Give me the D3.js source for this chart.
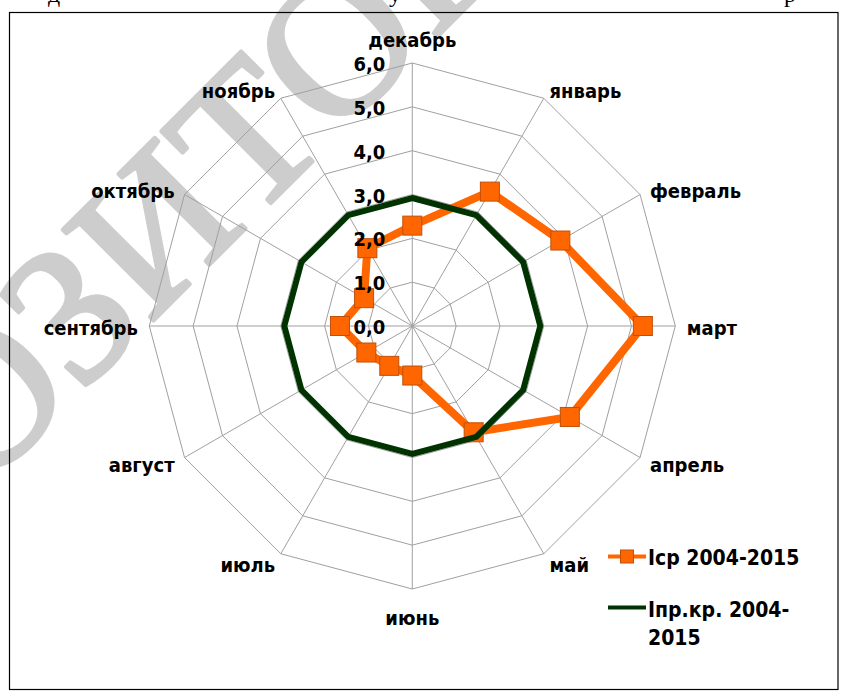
<!DOCTYPE html>
<html>
<head>
<meta charset="utf-8">
<script src="https://cdn.jsdelivr.net/npm/d3@7"></script>
<style>
  body { margin: 0; background: #fff; }
  svg { display: block; }
  .lbl { font-family: "DejaVu Sans Condensed", "DejaVu Sans", sans-serif; font-stretch: condensed; font-weight: bold; fill: #000; }
</style>
</head>
<body>
<div id="chart"></div>
<script>
// Radar chart: monthly index, 2004-2015

const WIDTH = 841
const HEIGHT = 696

// data
const months = ["декабрь", "январь", "февраль", "март", "апрель", "май",
  "июнь", "июль", "август", "сентябрь", "октябрь", "ноябрь"]
const iAvg = [2.29, 3.54, 3.90, 5.26, 4.15, 2.80, 1.13, 1.05, 1.21, 1.65, 1.27, 2.05]
const iCrit = [2.92, 2.92, 2.92, 2.92, 2.92, 2.92, 2.92, 2.92, 2.92, 2.92, 2.92, 2.92]
const ticks = [0, 1, 2, 3, 4, 5, 6]
const seriesNames = ["Iср 2004-2015", "Iпр.кр. 2004-", "2015"]

const CX = 412.3
const CY = 326
const RADIUS = 263

const svg = d3.select("#chart")
  .append("svg")
  .attr("width", WIDTH)
  .attr("height", HEIGHT)

// watermark left over from the scanned page
svg.append("text")
  .attr("transform", "translate(-20,494) rotate(-45)")
  .attr("font-family", "Liberation Serif, serif")
  .attr("font-size", 196)
  .attr("fill", "#cdcdcd")
  .attr("stroke", "#cdcdcd")
  .attr("stroke-width", 4)
  .attr("stroke-linejoin", "round")
  .text("ОЗИТОРИЙ")

// cut-off line of text above the figure
const topLine = [["д", 54], ["у", 395], ["р", 790]]
svg.selectAll(".topline")
  .data(topLine)
  .enter()
  .append("text")
    .attr("x", d => d[1])
    .attr("y", 2)
    .attr("text-anchor", "middle")
    .attr("font-family", "Liberation Serif, serif")
    .attr("font-size", 24)
    .attr("fill", "#000")
    .text(d => d[0])

// frame
svg.append("rect")
  .attr("x", 9.5)
  .attr("y", 12.5)
  .attr("width", 828.5)
  .attr("height", 677)
  .attr("fill", "none")
  .attr("stroke", "#000")
  .attr("stroke-width", 1.2)

const r = d3.scaleLinear().domain([0, 6]).range([0, RADIUS])
const angle = d3.scalePoint()
  .domain(d3.range(months.length + 1))
  .range([0, 2 * Math.PI])

const g = svg.append("g")
  .attr("transform", `translate(${CX},${CY})`)

function pt(i, v) {
  const a = angle(i)
  return [r(v) * Math.sin(a), -r(v) * Math.cos(a)]
}

// grid rings
const ring = d3.lineRadial()
  .angle((d, i) => angle(i))
  .radius(d => r(d))
  .curve(d3.curveLinearClosed)

g.selectAll(".ring")
  .data(ticks.slice(1))
  .enter()
  .append("path")
    .attr("d", t => ring(months.map(() => t)))
    .attr("fill", "none")
    .attr("stroke", "#a0a0a0")
    .attr("stroke-width", 1)

// spokes
g.selectAll(".spoke")
  .data(months)
  .enter()
  .append("line")
    .attr("x1", 0)
    .attr("y1", 0)
    .attr("x2", (d, i) => pt(i, 6)[0])
    .attr("y2", (d, i) => pt(i, 6)[1])
    .attr("stroke", "#a0a0a0")
    .attr("stroke-width", 1)

// month labels
g.selectAll(".month")
  .data(months)
  .enter()
  .append("text")
    .attr("class", "lbl")
    .attr("font-size", 20)
    .each(function(d, i) {
      const a = angle(i)
      const s = Math.sin(a), c = Math.cos(a)
      const [x, y] = pt(i, 6)
      const el = d3.select(this)
      if (Math.abs(s) < 0.1) {
        el.attr("text-anchor", "middle")
          .attr("x", x)
          .attr("y", y + 10 - 26 * c)
      } else {
        el.attr("text-anchor", s > 0 ? "start" : "end")
          .attr("x", x + 11.5 * s)
          .attr("y", y + 9 - 11 * c)
      }
    })
    .text(d => d)

// series
const series = d3.lineRadial()
  .angle((d, i) => angle(i))
  .radius(d => r(d))
  .curve(d3.curveLinearClosed)

g.append("path")
  .attr("d", series(iAvg))
  .attr("fill", "none")
  .attr("stroke", "#ff6600")
  .attr("stroke-width", 8)
  .attr("stroke-linejoin", "miter")

g.selectAll(".marker")
  .data(iAvg)
  .enter()
  .append("rect")
    .attr("x", (d, i) => pt(i, d)[0] - 9.5)
    .attr("y", (d, i) => pt(i, d)[1] - 9.5)
    .attr("width", 19)
    .attr("height", 19)
    .attr("fill", "#ff6600")
    .attr("stroke", "#c0500a")
    .attr("stroke-width", 1)

g.append("path")
  .attr("d", series(iCrit))
  .attr("fill", "none")
  .attr("stroke", "#013300")
  .attr("stroke-width", 6)
  .attr("stroke-linejoin", "miter")

// axis tick labels
g.selectAll(".tick")
  .data(ticks)
  .enter()
  .append("text")
    .attr("class", "lbl")
    .attr("font-size", 20)
    .attr("text-anchor", "end")
    .attr("x", -27)
    .attr("y", t => -r(t) + 8)
    .text(t => d3.format(".1f")(t).replace(".", ","))

// legend
const legend = svg.append("g")
legend.append("line")
  .attr("x1", 608).attr("x2", 646)
  .attr("y1", 556.5).attr("y2", 556.5)
  .attr("stroke", "#ff6600")
  .attr("stroke-width", 4)
legend.append("rect")
  .attr("x", 620.5).attr("y", 550)
  .attr("width", 13).attr("height", 13)
  .attr("fill", "#ff6600")
  .attr("stroke", "#c0500a")
legend.append("line")
  .attr("x1", 608).attr("x2", 646)
  .attr("y1", 607.5).attr("y2", 607.5)
  .attr("stroke", "#013300")
  .attr("stroke-width", 4)

legend.selectAll(".legtext")
  .data(seriesNames)
  .enter()
  .append("text")
    .attr("class", "lbl")
    .attr("font-size", 21)
    .attr("x", 648)
    .attr("y", (d, i) => [565, 616.5, 645][i])
    .text(d => d)
</script>
</body>
</html>
